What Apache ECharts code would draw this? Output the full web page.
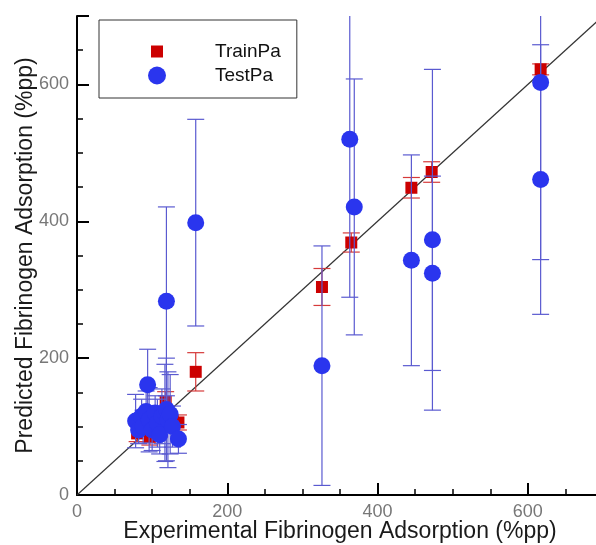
<!DOCTYPE html>
<html>
<head>
<meta charset="utf-8">
<script src="https://cdn.jsdelivr.net/npm/echarts@6/dist/echarts.min.js"></script>
<style>
  html, body { margin: 0; padding: 0; background: #fff; }
  #chart { width: 596px; height: 545px; }
</style>
</head>
<body>
<div id="chart"></div>
<script>
(function () {
  // Training set: experimental x, predicted y, error half-width
  var trainX   = [617, 472, 445, 365, 326, 158, 135, 118, 80, 97, 110, 88];
  var trainY   = [622, 472, 449, 369, 304, 180, 106, 136, 90, 85, 100, 110];
  var trainErr = [8, 15, 15, 14, 27, 28, 11, 15, 12, 12, 15, 10];

  // Test set
  var testX   = [617, 617, 473, 473, 445, 369, 363, 326, 158, 119, 94,
                 78, 82, 86, 88, 92, 96, 100, 104, 107, 110, 113, 117, 119, 121, 124, 127, 135];
  var testY   = [603, 461, 373, 324, 343, 421, 520, 189, 398, 283, 161,
                 108, 95, 115, 100, 122, 110, 95, 120, 105, 88, 115, 120, 125, 110, 118, 100, 82];
  var testErr = [259, 197, 249, 142, 154, 187, 231, 175, 151, 138, 52,
                 39, 20, 25, 24, 30, 47, 30, 25, 35, 28, 40, 71, 75, 70, 58, 30, 21];

  var xTicks = { min: 0, max: 700, step: 200 };
  var yTicks = { min: 0, max: 700, step: 200 };
  var diagonal = [[0, 0], [700, 700]];

  var font = 'Liberation Sans, Arial, Helvetica, sans-serif';
  var red = '#cc0000', blue = '#2a35ee';

  function points(xs, ys) {
    return xs.map(function (x, i) { return [x, ys[i]]; });
  }
  function bars(xs, ys, es) {
    return xs.map(function (x, i) { return [x, ys[i] - es[i], ys[i] + es[i]]; });
  }

  function errorBar(color) {
    return function (params, api) {
      var x = api.value(0);
      var top = api.coord([x, api.value(2)]);
      var bot = api.coord([x, api.value(1)]);
      var hw = 8.5;
      var style = { stroke: color, lineWidth: 1.2 };
      return {
        type: 'group',
        children: [
          { type: 'line', shape: { x1: top[0], y1: top[1], x2: bot[0], y2: bot[1] }, style: style },
          { type: 'line', shape: { x1: top[0] - hw, y1: top[1], x2: top[0] + hw, y2: top[1] }, style: style },
          { type: 'line', shape: { x1: bot[0] - hw, y1: bot[1], x2: bot[0] + hw, y2: bot[1] }, style: style }
        ]
      };
    };
  }

  function axis(t, name, gap) {
    return {
      type: 'value', min: t.min, max: t.max, interval: t.step,
      name: name, nameLocation: 'middle', nameGap: gap, nameMoveOverlap: false,
      nameTextStyle: { color: '#1a1a1a', fontSize: 23, fontFamily: font },
      axisLine: { onZero: false, lineStyle: { color: '#000', width: 2 } },
      axisTick: { inside: true, length: 12, lineStyle: { color: '#000', width: 2 } },
      minorTick: { show: true, splitNumber: 4, length: 6, lineStyle: { color: '#000', width: 1.5 } },
      splitLine: { show: false },
      axisLabel: { color: '#777', fontSize: 18, fontFamily: font, margin: 8, showMaxLabel: false }
    };
  }

  var c = echarts.init(document.getElementById('chart'), null, { renderer: 'canvas' });
  c.setOption({
    animation: false,
    backgroundColor: '#fff',
    grid: { left: 77, right: -7, top: 16, bottom: 50, outerBoundsMode: 'none' },
    xAxis: axis(xTicks, 'Experimental Fibrinogen Adsorption (%pp)', 25),
    yAxis: axis(yTicks, 'Predicted Fibrinogen Adsorption (%pp)', 40),
    legend: [{
      data: [{ name: 'TrainPa', itemStyle: { color: red, opacity: 1 } }],
      orient: 'vertical', left: 99, top: 20,
      itemWidth: 12, itemHeight: 12, icon: 'rect',
      borderColor: '#333', borderWidth: 1, padding: [22, 16, 37, 52],
      formatter: '{t|{name}}',
      textStyle: { rich: { t: { fontSize: 19, fontFamily: font, color: '#111', lineHeight: 20, padding: [0, 0, 0, 47] } } }
    }, {
      data: [{ name: 'TestPa', itemStyle: { color: blue, opacity: 1 } }],
      orient: 'vertical', left: 148, top: 66,
      itemWidth: 18, itemHeight: 18, icon: 'circle', padding: 0,
      formatter: '{t|{name}}',
      textStyle: { rich: { t: { fontSize: 19, fontFamily: font, color: '#111', lineHeight: 20, padding: [0, 0, 0, 44] } } }
    }],
    series: [
      { name: 'diag', type: 'line', data: diagonal, symbol: 'none', silent: true,
        lineStyle: { color: '#333', width: 1.2 }, z: 1 },
      { name: 'TrainPa', type: 'custom', data: bars(trainX, trainY, trainErr),
        itemStyle: { color: red }, renderItem: errorBar('#d63a3a'), clip: true, z: 2 },
      { name: 'TrainPa', type: 'scatter', data: points(trainX, trainY),
        symbol: 'rect', symbolSize: 12, itemStyle: { color: red, opacity: 1 }, z: 3 },
      { name: 'TestPa', type: 'custom', data: bars(testX, testY, testErr),
        itemStyle: { color: blue }, renderItem: errorBar('#5a5ad0'), clip: true, z: 4 },
      { name: 'TestPa', type: 'scatter', data: points(testX, testY),
        symbol: 'circle', symbolSize: 17, itemStyle: { color: blue, opacity: 1 }, z: 5 }
    ]
  });
})();
</script>
</body>
</html>
